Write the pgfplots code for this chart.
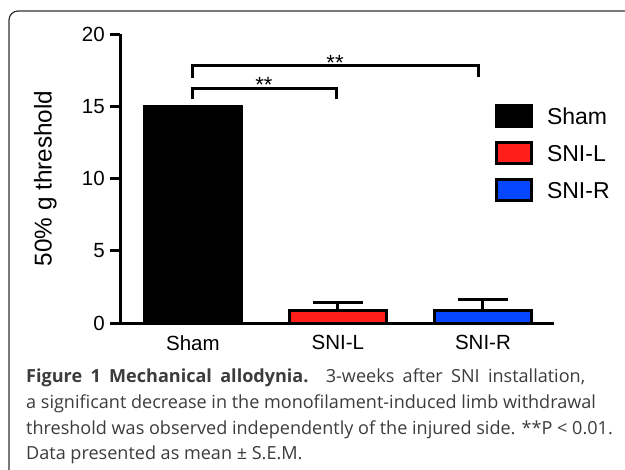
\documentclass[border=0pt]{standalone}
\usepackage{pgfplots}
\pgfplotsset{compat=1.18}
\usepackage{fontspec}
\setmainfont{Liberation Sans}
\newfontfamily\capfont{Open Sans}
\definecolor{barred}{RGB}{255,30,25}
\definecolor{barblue}{RGB}{5,70,255}
\definecolor{framegray}{RGB}{50,50,50}
\definecolor{captext}{RGB}{60,60,60}

\begin{document}
\begin{tikzpicture}
\useasboundingbox (0,0) rectangle (625bp,-470bp);
\clip (0,0) rectangle (625bp,-470bp);
\fill[white] (0,0) rectangle (625bp,-470bp);
\draw[framegray, line width=1.2bp, rounded corners=9bp] (660bp,-11bp) -- (9bp,-11bp) -- (9bp,-500bp);

\begin{axis}[
  at={(120bp,-323bp)}, anchor=south west,
  scale only axis, width=434bp, height=289bp,
  xmin=-0.503, xmax=2.49, ymin=0, ymax=20,
  axis x line=bottom, axis y line=left,
  axis line style={line width=3bp, -},
  xtick={0,1,2}, xticklabels={Sham,SNI-L,SNI-R},
  x tick label style={font=\fontsize{20.5bp}{24bp}\selectfont, inner sep=0pt, yshift=-2bp},
  x tick style={draw=none},
  ytick={0,5,10,15,20},
  y tick label style={font=\fontsize{20.5bp}{24bp}\selectfont, inner sep=0pt, xshift=-5bp},
  y tick style={line width=3bp, black},
  tick align=outside, major tick length=10bp,
  /pgf/number format/assume math mode=true,
  ylabel={50\% g threshold},
  ylabel style={font=\fontsize{24.3bp}{28bp}\selectfont, at={(axis description cs:-0.172,0.5)}, anchor=center},
  ybar, bar width=97bp,
  clip=false,
  legend style={draw=none, fill=none, at={(rel axis cs:0.8629,0.7595)}, anchor=north west,
    inner sep=0pt, outer sep=0pt, row sep=13bp, font=\fontsize{23bp}{27bp}\selectfont,
    nodes={inner sep=0pt, text height=17bp, text depth=0pt},
    /tikz/every odd column/.append style={column sep=14.5bp}},
  legend cell align=left,
  legend image code/.code={\draw[#1, line width=3bp] (0bp,-10.5bp) rectangle (35bp,10.5bp);},
]
\addplot[fill=black, draw=black, line width=3bp, bar shift=0pt] coordinates {(0,15)};
\addplot[fill=barred, draw=black, line width=3bp, bar shift=0pt,
  error bars/.cd, y dir=plus, y explicit,
  error mark options={rotate=90, line width=3bp, mark size=25bp, black},
  error bar style={line width=3bp, black}] coordinates {(1,0.85) +- (0,0.6)};
\addplot[fill=barblue, draw=black, line width=3bp, bar shift=0pt,
  error bars/.cd, y dir=plus, y explicit,
  error mark options={rotate=90, line width=3bp, mark size=25bp, black},
  error bar style={line width=3bp, black}] coordinates {(2,0.85) +- (0,0.76)};
\legend{Sham,SNI-L,SNI-R}
\draw[line width=3bp] (axis cs:0,15.5) -- (axis cs:0,16.26) -- (axis cs:0.993,16.26) -- (axis cs:0.993,15.5);
\draw[line width=3bp] (axis cs:0,16.96) -- (axis cs:0,17.79) -- (axis cs:1.97,17.79) -- (axis cs:1.97,17.0);
\node[anchor=base, inner sep=0pt, font=\fontsize{22bp}{24bp}\selectfont] at (axis cs:0.49,15.94) {**};
\node[anchor=base, inner sep=0pt, font=\fontsize{22bp}{24bp}\selectfont] at (axis cs:0.98,17.44) {**};
\end{axis}

\begin{scope}[every node/.style={anchor=base west, inner sep=0pt, text=captext, font=\capfont\fontsize{18.05bp}{22bp}\selectfont}]
\node at (26bp,-382bp) {\makebox[559bp][s]{\textbf{Figure 1 Mechanical allodynia.} 3-weeks after SNI installation,}};
\node at (26bp,-408bp) {a significant decrease in the monofilament-induced limb withdrawal};
\node at (26bp,-434bp) {threshold was observed independently of the injured side. **P < 0.01.};
\node at (26bp,-459bp) {Data presented as mean ± S.E.M.};
\end{scope}
\end{tikzpicture}
\end{document}
